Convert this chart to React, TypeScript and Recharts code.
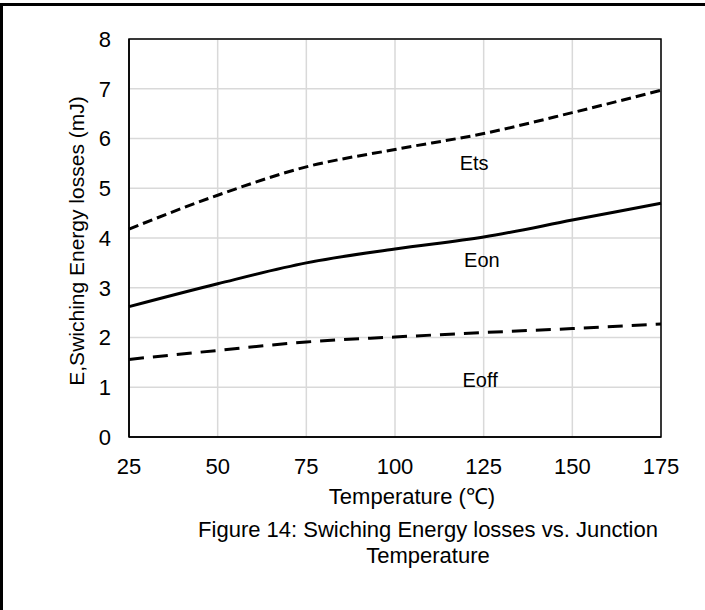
import {
  LineChart,
  Line,
  XAxis,
  YAxis,
  CartesianGrid,
  ReferenceArea,
  ReferenceDot,
} from "recharts";

const temps = [25, 50, 75, 100, 125, 150, 175];
const ets = [4.18, 4.86, 5.43, 5.78, 6.1, 6.52, 6.97];
const eon = [2.62, 3.08, 3.5, 3.78, 4.02, 4.36, 4.7];
const eoff = [1.56, 1.74, 1.91, 2.01, 2.1, 2.18, 2.27];

const xTicks = [25, 50, 75, 100, 125, 150, 175];
const yTicks = [0, 1, 2, 3, 4, 5, 6, 7, 8];

const curveLabels = [
  { name: "Ets", t: 122.3, e: 5.51 },
  { name: "Eon", t: 124.5, e: 3.56 },
  { name: "Eoff", t: 124, e: 1.15 },
];

const FONT = '"Liberation Sans", Arial, sans-serif';

export default function App() {
  const data = temps.map((t, i) => ({ t, ets: ets[i], eon: eon[i], eoff: eoff[i] }));

  return (
    <div
      style={{
        position: "absolute",
        left: 0,
        top: 0,
        width: 705,
        height: 610,
        fontFamily: FONT,
        background: "#fff",
      }}
    >
      <div
        style={{
          position: "absolute",
          left: 0,
          top: 3,
          width: 705,
          height: 607,
          borderTop: "3px solid #000",
          borderLeft: "3px solid #000",
          boxSizing: "border-box",
        }}
      />
      <LineChart
        width={705}
        height={610}
        data={data}
        margin={{ top: 39, right: 44, bottom: 143, left: 99 }}
      >
        <CartesianGrid stroke="#d9d9d9" strokeWidth={1.5} />
        <XAxis
          type="number"
          dataKey="t"
          domain={[25, 175]}
          ticks={xTicks}
          height={30}
          axisLine={{ stroke: "#000", strokeWidth: 1.5 }}
          tickLine={false}
          tickMargin={15}
          tick={{ fill: "#000", fontSize: 22, fontFamily: FONT }}
        />
        <YAxis
          type="number"
          domain={[0, 8]}
          ticks={yTicks}
          width={30}
          axisLine={{ stroke: "#000", strokeWidth: 1.5 }}
          tickLine={false}
          tickMargin={12}
          tick={{ fill: "#000", fontSize: 22, fontFamily: FONT }}
        />
        <ReferenceArea
          x1={25}
          x2={175}
          y1={0}
          y2={8}
          fill="none"
          stroke="#000"
          strokeWidth={1.5}
        />
        <Line
          type="monotone"
          dataKey="ets"
          stroke="#000"
          strokeWidth={3}
          strokeDasharray="10 5"
          dot={false}
          isAnimationActive={false}
        />
        <Line
          type="monotone"
          dataKey="eon"
          stroke="#000"
          strokeWidth={3}
          dot={false}
          isAnimationActive={false}
        />
        <Line
          type="monotone"
          dataKey="eoff"
          stroke="#000"
          strokeWidth={3}
          strokeDasharray="15 9"
          dot={false}
          isAnimationActive={false}
        />
        {curveLabels.map((c) => (
          <ReferenceDot
            key={c.name}
            x={c.t}
            y={c.e}
            r={0}
            fill="none"
            stroke="none"
            label={{
              value: c.name,
              position: "center",
              fill: "#000",
              fontSize: 20,
              fontFamily: FONT,
            }}
          />
        ))}
      </LineChart>
      <div
        style={{
          position: "absolute",
          left: 77 - 200,
          top: 241 - 13,
          width: 400,
          height: 26,
          lineHeight: "26px",
          textAlign: "center",
          fontSize: 21,
          transform: "rotate(-90deg)",
          color: "#000",
        }}
      >
        E,Swiching Energy losses (mJ)
      </div>
      <div
        style={{
          position: "absolute",
          left: 212,
          top: 484,
          width: 400,
          textAlign: "center",
          fontSize: 22,
          lineHeight: "26px",
          color: "#000",
        }}
      >
        Temperature (℃)
      </div>
      <div
        style={{
          position: "absolute",
          left: 153,
          top: 517,
          width: 550,
          textAlign: "center",
          fontSize: 22,
          lineHeight: "26px",
          color: "#000",
        }}
      >
        Figure 14: Swiching Energy losses vs. Junction
        <br />
        Temperature
      </div>
    </div>
  );
}
